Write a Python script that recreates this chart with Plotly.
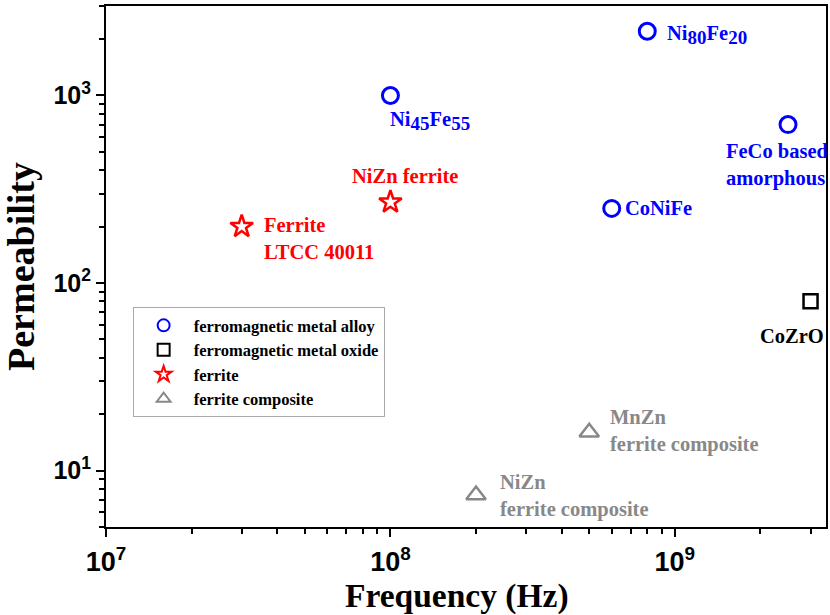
import plotly.graph_objects as go
import math

# Data
alloy_names = ["Ni<sub>45</sub>Fe<sub>55</sub>", "Ni<sub>80</sub>Fe<sub>20</sub>", "FeCo based<br>amorphous", "CoNiFe"]
alloy_freq = [1e8, 8e8, 2.5e9, 6e8]
alloy_perm = [1000, 2200, 700, 250]

oxide_names = ["CoZrO"]
oxide_freq = [3e9]
oxide_perm = [80]

ferrite_names = ["NiZn ferrite", "Ferrite<br>LTCC 40011"]
ferrite_freq = [1e8, 3e7]
ferrite_perm = [270, 200]

comp_names = ["MnZn<br>ferrite composite", "NiZn<br>ferrite composite"]
comp_freq = [5e8, 2e8]
comp_perm = [16, 7.4]

x_tickvals = [1e7, 1e8, 1e9]
x_ticktext = ["10<sup>7</sup>", "10<sup>8</sup>", "10<sup>9</sup>"]
y_tickvals = [10, 100, 1000]
y_ticktext = ["10<sup>1</sup>", "10<sup>2</sup>", "10<sup>3</sup>"]
x_title = "Frequency (Hz)"
y_title = "Permeability"

BLUE = "#0000ff"
RED = "#ff0000"
GRAY = "#888888"
SERIF = "Liberation Serif"
SANS = "Liberation Sans"
FS = 20.5


def big_sub(t):
    # keep subscripts nearly full size, as in the reference
    return t.replace("<sub>", "<sub><span style='font-size:19px'>").replace("</sub>", "</span></sub>")


fig = go.Figure()
fig.add_trace(go.Scatter(x=alloy_freq, y=alloy_perm, mode="markers", name="ferromagnetic metal alloy",
                         marker=dict(symbol="circle-open", size=16, color=BLUE, line=dict(width=3, color=BLUE)),
                         cliponaxis=False))
fig.add_trace(go.Scatter(x=oxide_freq, y=oxide_perm, mode="markers", name="ferromagnetic metal oxide",
                         marker=dict(symbol="square-open", size=14, color="black", line=dict(width=2.5, color="black")),
                         cliponaxis=False))
fig.add_trace(go.Scatter(x=ferrite_freq, y=ferrite_perm, mode="markers", name="ferrite",
                         marker=dict(symbol="star-open", size=17, color=RED, line=dict(width=2.5, color=RED)),
                         cliponaxis=False))
fig.add_trace(go.Scatter(x=comp_freq, y=comp_perm, mode="markers", name="ferrite composite",
                         marker=dict(symbol="triangle-up-open", size=17, color=GRAY, line=dict(width=2.5, color=GRAY)),
                         cliponaxis=False))

alloy_off = [(-2, -26), (18, -4), (-64, -40), (11, 0)]
for n, fx, p, (dx, dy) in zip(alloy_names, alloy_freq, alloy_perm, alloy_off):
    fig.add_annotation(x=math.log10(fx), y=math.log10(p), text=big_sub(n), showarrow=False, xanchor="left",
                       xshift=dx, yshift=dy, align="left",
                       font=dict(family=SERIF, size=FS, color=BLUE, weight="bold"))
for n, fx, p in zip(oxide_names, oxide_freq, oxide_perm):
    fig.add_annotation(x=math.log10(fx), y=math.log10(p), text=n, showarrow=False, xanchor="right",
                       xshift=15, yshift=-35, font=dict(family=SERIF, size=FS, color="black", weight="bold"))
ferrite_off = [(-40, 26), (20, -12)]
for n, fx, p, (dx, dy) in zip(ferrite_names, ferrite_freq, ferrite_perm, ferrite_off):
    fig.add_annotation(x=math.log10(fx), y=math.log10(p), text=n, showarrow=False, xanchor="left",
                       xshift=dx, yshift=dy, align="left",
                       font=dict(family=SERIF, size=FS, color=RED, weight="bold"))
comp_off = [(19, 1), (22, -1)]
for n, fx, p, (dx, dy) in zip(comp_names, comp_freq, comp_perm, comp_off):
    fig.add_annotation(x=math.log10(fx), y=math.log10(p), text=n, showarrow=False, xanchor="left",
                       xshift=dx, yshift=dy, align="left",
                       font=dict(family=SERIF, size=FS, color=GRAY, weight="bold"))

# x-axis title (placed as paper annotation to match the reference position)
fig.add_annotation(xref="paper", yref="paper", x=0.4875, y=0, xanchor="center", yanchor="middle",
                   yshift=-69, text=x_title, showarrow=False,
                   font=dict(family=SERIF, size=33.5, color="black", weight="bold"))

fig.update_layout(
    width=830, height=615,
    margin=dict(l=106, r=2, t=6, b=88),
    plot_bgcolor="white", paper_bgcolor="white",
    showlegend=True,
    legend=dict(x=0.037, y=0.422, xanchor="left", yanchor="top",
                bordercolor="#aaaaaa", borderwidth=1, bgcolor="white",
                font=dict(family=SERIF, size=16.5, color="black", weight="bold"),
                tracegroupgap=0, itemsizing="constant", itemwidth=50),
)
fig.update_xaxes(type="log", range=[7, math.log10(3.4e9)], showgrid=False, zeroline=False,
                 showline=True, linecolor="black", linewidth=2, mirror=True,
                 ticks="outside", ticklen=8, tickwidth=2, tickcolor="black",
                 tickvals=x_tickvals, ticktext=x_ticktext, ticklabelstandoff=2,
                 tickfont=dict(family=SANS, size=27, color="black", weight="bold"),
                 minor=dict(ticks="outside", ticklen=5, tickwidth=1.5, tickcolor="black", dtick="D1", showgrid=False))
fig.update_yaxes(type="log", range=[math.log10(5), math.log10(3000)], showgrid=False, zeroline=False,
                 showline=True, linecolor="black", linewidth=2, mirror=True,
                 ticks="outside", ticklen=8, tickwidth=2, tickcolor="black",
                 tickvals=y_tickvals, ticktext=y_ticktext,
                 tickfont=dict(family=SANS, size=25, color="black", weight="bold"),
                 minor=dict(ticks="outside", ticklen=5, tickwidth=1.5, tickcolor="black", dtick="D1", showgrid=False),
                 title=dict(text=y_title, standoff=8,
                            font=dict(family=SERIF, size=38, color="black", weight="bold")))

fig.write_html("out.html")
